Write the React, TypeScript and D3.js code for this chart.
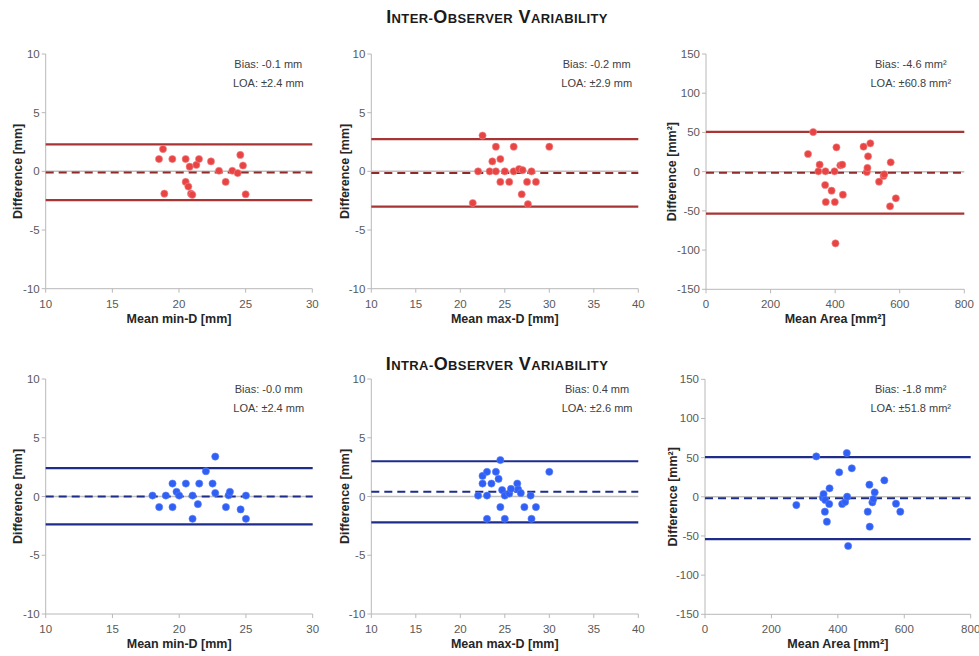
import React from 'react';
import * as d3 from 'd3';

// ---------- DATA ----------
const panelTitles = ['Inter-Observer Variability', 'Intra-Observer Variability'];

// Inter-observer, min-D
const interMinDMean = [18.5, 18.8, 18.9, 19.5, 20.5, 20.5, 20.7, 20.8, 20.9, 21.0, 21.3, 21.5, 22.4, 23.0, 23.5, 24.0, 24.4, 24.6, 24.8, 25.0];
const interMinDDiff = [1.05, 1.9, -1.9, 1.05, 1.05, -0.9, -1.3, 0.4, -1.9, -2.0, 0.55, 1.05, 0.85, 0.05, -0.9, 0.05, -0.15, 1.4, 0.5, -1.95];
// Inter-observer, max-D
const interMaxDMean = [21.4, 22.0, 22.5, 23.3, 23.6, 24.0, 24.0, 24.5, 24.5, 25.0, 25.5, 26.0, 26.0, 26.6, 27.0, 26.9, 27.5, 27.6, 28.0, 28.5, 30.0];
const interMaxDDiff = [-2.7, 0.0, 3.05, 0.0, 0.85, 2.1, 0.0, 1.05, -0.9, 0.0, -0.9, 2.1, 0.0, 0.2, 0.1, -1.95, -0.9, -2.8, 0.0, -0.9, 2.1];
// Inter-observer, area
const interAreaMean = [316, 332, 348, 352, 370, 369, 371, 389, 398, 399, 401, 404, 416, 422, 424, 488, 498, 500, 502, 509, 536, 550, 552, 570, 572, 588];
const interAreaDiff = [22.5, 50.5, 0.4, 8.9, 0.4, -17, -38.7, -24.3, 0.4, -38.7, -91.4, 31, 8.1, 8.9, -29.4, 31.8, -0.4, 4.7, 19.5, 36.1, -12.8, -5.5, -3.4, -44.2, 11.9, -34];
// Intra-observer, min-D
const intraMinDMean = [18.0, 18.5, 19.0, 19.5, 19.5, 19.8, 20.0, 20.5, 21.0, 21.0, 21.4, 21.5, 22.0, 22.5, 22.7, 22.7, 23.5, 23.7, 23.8, 24.6, 25.0, 25.0];
const intraMinDDiff = [0.08, -0.9, 0.08, 1.1, -0.9, 0.4, 0.08, 1.1, 0.08, -1.9, -0.65, 1.1, 2.15, 1.1, 3.4, 0.3, -0.9, 0.1, 0.4, -1.1, 0.08, -1.9];
// Intra-observer, max-D
const intraMaxDMean = [22.0, 22.5, 22.5, 23.0, 23.0, 23.0, 23.5, 24.0, 24.3, 24.5, 24.5, 24.7, 25.0, 25.0, 25.5, 25.7, 26.4, 26.5, 26.8, 27.2, 27.9, 28.0, 28.5, 30.0];
const intraMaxDDiff = [0.08, 1.75, 1.1, 2.1, 0.08, -1.9, 1.1, 2.1, 1.5, 3.1, -0.9, 0.55, 0.08, -1.9, 0.25, 0.65, 1.1, 0.6, 0.3, -0.9, 0.08, -1.9, -0.9, 2.1];
// Intra-observer, area
const intraAreaMean = [275, 335, 355, 357, 362, 361, 367, 374, 375, 413, 404, 422, 427, 428, 431, 442, 490, 495, 496, 504, 507, 511, 540, 575, 588];
const intraAreaDiff = [-10.5, 51.5, -1.1, 3.6, -4, -19, -31.8, -9.2, 10.8, -9.2, 31.3, -6.6, 55.9, 0.1, -62.8, 36.4, -19, 15.5, -38.2, -7.1, -2.8, 5.7, 21, -8.8, -19];

// Bias / limits of agreement (lines as drawn) and printed labels
const biasValues = [-0.1, -0.15, -1.5, 0.0, 0.4, -1.8];
const upperLOA = [2.3, 2.75, 50.6, 2.42, 3.0, 50.6];
const lowerLOA = [-2.45, -3.0, -53.6, -2.38, -2.2, -54.0];
const biasLabels = ['Bias: -0.1 mm', 'Bias: -0.2 mm', 'Bias: -4.6 mm²', 'Bias: -0.0 mm', 'Bias: 0.4 mm', 'Bias: -1.8 mm²'];
const loaLabels = ['LOA: ±2.4 mm', 'LOA: ±2.9 mm', 'LOA: ±60.8 mm²', 'LOA: ±2.4 mm', 'LOA: ±2.6 mm', 'LOA: ±51.8 mm²'];

const xTitles = ['Mean min-D [mm]', 'Mean max-D [mm]', 'Mean Area [mm²]', 'Mean min-D [mm]', 'Mean max-D [mm]', 'Mean Area [mm²]'];
const yTitles = ['Difference [mm]', 'Difference [mm]', 'Difference [mm²]', 'Difference [mm]', 'Difference [mm]', 'Difference [mm²]'];
const xDomains: [number, number][] = [[10, 30], [10, 40], [0, 800], [10, 30], [10, 40], [0, 800]];
const yDomains: [number, number][] = [[-10, 10], [-10, 10], [-150, 150], [-10, 10], [-10, 10], [-150, 150]];
const xTickSteps = [5, 5, 200, 5, 5, 200];
const yTickSteps = [5, 5, 50, 5, 5, 50];

const meansList = [interMinDMean, interMaxDMean, interAreaMean, intraMinDMean, intraMaxDMean, intraAreaMean];
const diffsList = [interMinDDiff, interMaxDDiff, interAreaDiff, intraMinDDiff, intraMaxDDiff, intraAreaDiff];

// ---------- LAYOUT ----------
const W = 979;
const H = 656;
const FONT = "'Liberation Sans', Arial, sans-serif";
// plot boxes [x0, x1, yTop, yBottom]
const boxes: [number, number, number, number][] = [
  [45.7, 312.3, 54, 288.7],
  [371.3, 638.3, 54, 288.7],
  [706, 964.3, 54, 289.3],
  [45.7, 312.7, 379, 614],
  [371.3, 638.3, 379, 614],
  [705, 970.7, 379.3, 614.3],
];
const yTitleOffsets = [27.7, 26.3, 34.3, 27.7, 26.3, 32];
const noteOffsets = [44, 41.6, 53.5, 44, 41.2, 60];
const titleBaselines = [22.7, 370];

const themes = [
  { dot: '#e84444', dotStroke: '#f28a8a', line: '#a83434', dash: '#8e2a2a' },
  { dot: '#2f5ff5', dotStroke: '#5b82f8', line: '#1f2d8a', dash: '#1f2d8a' },
];

function smallCaps(text: string, big: number, small: number) {
  const runs: { t: string; big: boolean }[] = [];
  for (const ch of text) {
    const isBig = ch === ' ' || (ch !== ch.toLowerCase() && ch === ch.toUpperCase());
    const last = runs[runs.length - 1];
    if (last && last.big === isBig) last.t += ch.toUpperCase();
    else runs.push({ t: ch.toUpperCase(), big: isBig });
  }
  return runs.map((r, i) => (
    <tspan key={i} fontSize={r.big ? big : small}>{r.t}</tspan>
  ));
}

function Panel({ i }: { i: number }) {
  const [x0, x1, yt, yb] = boxes[i];
  const theme = themes[i < 3 ? 0 : 1];
  const x = d3.scaleLinear().domain(xDomains[i]).range([x0, x1]);
  const y = d3.scaleLinear().domain(yDomains[i]).range([yb, yt]);
  const xt = d3.range(xDomains[i][0], xDomains[i][1] + 1e-9, xTickSteps[i]);
  const yt2 = d3.range(yDomains[i][0], yDomains[i][1] + 1e-9, yTickSteps[i]);
  const means = meansList[i];
  const diffs = diffsList[i];
  const axisColor = '#b8b8b8';
  const noteX = x1 - noteOffsets[i];
  return (
    <g>
      {/* zero reference line */}
      <line x1={x0} x2={x1} y1={y(0)} y2={y(0)} stroke="#c0c0c0" strokeWidth={1.5} />
      {/* axes */}
      <line x1={x0} x2={x0} y1={yt} y2={yb} stroke={axisColor} strokeWidth={1} />
      <line x1={x0} x2={x1} y1={yb} y2={yb} stroke={axisColor} strokeWidth={1} />
      {yt2.map((v) => (
        <g key={'y' + v}>
          <line x1={x0 - 4} x2={x0} y1={y(v)} y2={y(v)} stroke={axisColor} />
          <text x={x0 - 6} y={y(v)} dy="0.35em" textAnchor="end" fontSize={11.5} fill="#595959">{String(v)}</text>
        </g>
      ))}
      {xt.map((v) => (
        <g key={'x' + v}>
          <line x1={x(v)} x2={x(v)} y1={yb} y2={yb + 4} stroke={axisColor} />
          <text x={x(v)} y={yb + 19} textAnchor="middle" fontSize={11.5} fill="#595959">{String(v)}</text>
        </g>
      ))}
      {/* LOA lines */}
      <line x1={x0} x2={x1} y1={y(upperLOA[i])} y2={y(upperLOA[i])} stroke={theme.line} strokeWidth={2.2} />
      <line x1={x0} x2={x1} y1={y(lowerLOA[i])} y2={y(lowerLOA[i])} stroke={theme.line} strokeWidth={2.2} />
      {/* bias */}
      <line x1={x0} x2={x1} y1={y(biasValues[i])} y2={y(biasValues[i])} stroke={theme.dash} strokeWidth={2} strokeDasharray="8,5" />
      {/* points */}
      {means.map((m, k) => (
        <circle key={k} cx={x(m)} cy={y(diffs[k])} r={3.6} fill={theme.dot} stroke={theme.dotStroke} strokeWidth={0.6} />
      ))}
      {/* notes */}
      <text x={noteX} y={yt + 14} textAnchor="middle" fontSize={11} fill="#404040">{biasLabels[i]}</text>
      <text x={noteX} y={yt + 33} textAnchor="middle" fontSize={11} fill="#404040">{loaLabels[i]}</text>
      {/* axis titles */}
      <text x={(x0 + x1) / 2} y={yb + 34} textAnchor="middle" fontSize={12.5} fontWeight="bold" fill="#262626">{xTitles[i]}</text>
      <text transform={`translate(${x0 - yTitleOffsets[i]},${(yt + yb) / 2}) rotate(-90)`} dy="0.35em" textAnchor="middle" fontSize={12.5} fontWeight="bold" fill="#262626">{yTitles[i]}</text>
    </g>
  );
}

export default function App() {
  return (
    <svg width={W} height={H} viewBox={`0 0 ${W} ${H}`} style={{ position: 'absolute', left: 0, top: 0, background: '#fff' }} fontFamily={FONT}>
      <rect width={W} height={H} fill="#fff" />
      {panelTitles.map((t, k) => (
        <text key={t} x={497} y={titleBaselines[k]} textAnchor="middle" fontWeight="bold" fill="#1a1a1a" letterSpacing={0.4}>
          {smallCaps(t, 18, 13)}
        </text>
      ))}
      {[0, 1, 2, 3, 4, 5].map((i) => <Panel key={i} i={i} />)}
    </svg>
  );
}
